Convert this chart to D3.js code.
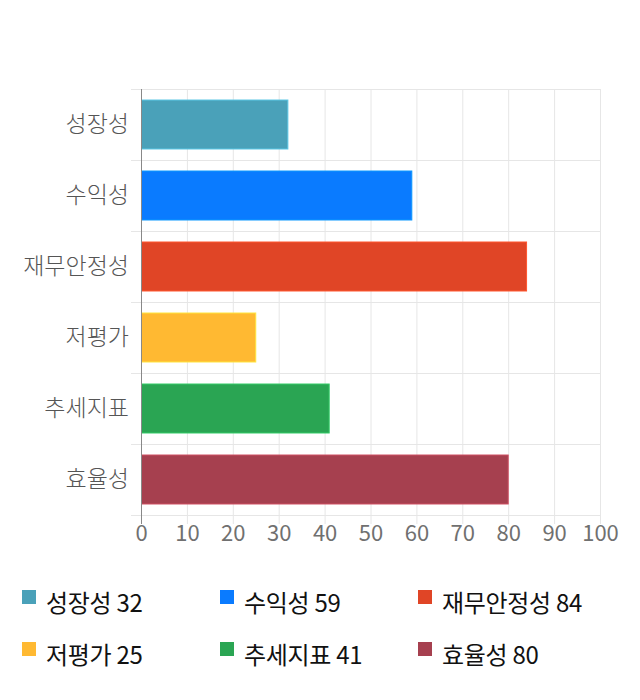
<!DOCTYPE html>
<meta charset="utf-8">
<style>
  body { margin: 0; background: #fff; }
  .grid line { stroke: #e6e6e6; stroke-width: 1px; }
  .axis text { font-family: "Noto Sans CJK KR", sans-serif; fill: #666; font-weight: 300; }
  .legend text { font-family: "Noto Sans CJK KR", sans-serif; fill: #111; }
</style>
<svg width="640" height="700"></svg>
<script src="https://d3js.org/d3.v7.min.js"></script>
<script>
  var categories = ["성장성", "수익성", "재무안정성", "저평가", "추세지표", "효율성"];
  var values = [32, 59, 84, 25, 41, 80];
  var colors = ["#4aa1b9", "#0a7bff", "#e04526", "#ffb932", "#2aa553", "#a6404f"];
  var xTicks = [0, 10, 20, 30, 40, 50, 60, 70, 80, 90, 100];

  var svg = d3.select("svg"),
    plotLeft = 141, plotRight = 600, plotTop = 89, plotBottom = 515;

  var x = d3.scaleLinear().domain([0, 100]).range([plotLeft, plotRight]);
  var y = d3.scaleBand().domain(categories).range([plotTop, plotBottom]).paddingInner(0.31).paddingOuter(0.155);

  var grid = svg.append("g").attr("class", "grid");

  // vertical grid lines (run a little past the bottom as tick marks)
  grid.selectAll("line.v")
    .data(xTicks.slice(1))
    .enter().append("line")
    .attr("x1", function(d) { return x(d) + 0.5; })
    .attr("x2", function(d) { return x(d) + 0.5; })
    .attr("y1", plotTop)
    .attr("y2", plotBottom + 9);

  // horizontal band separators
  var seps = d3.range(categories.length + 1).map(function(i) { return plotTop + i * y.step(); });
  grid.selectAll("line.h")
    .data(seps)
    .enter().append("line")
    .attr("x1", plotLeft - 10)
    .attr("x2", plotRight)
    .attr("y1", function(d) { return Math.round(d) + 0.5; })
    .attr("y2", function(d) { return Math.round(d) + 0.5; });

  svg.append("g")
    .selectAll("rect")
    .data(values)
    .enter().append("rect")
    .attr("x", x(0) + 0.5)
    .attr("y", function(d, i) { return y(categories[i]); })
    .attr("width", function(d) { return x(d) - x(0) - 0.5; })
    .attr("height", y.bandwidth())
    .attr("fill", function(d, i) { return colors[i]; })
    .attr("stroke", function(d, i) { return d3.color(colors[i]).brighter(0.6); })
    .attr("stroke-width", 1);

  // axis line
  svg.append("line")
    .attr("x1", plotLeft + 0.5).attr("x2", plotLeft + 0.5)
    .attr("y1", plotTop).attr("y2", plotBottom + 9)
    .attr("stroke", "#888");

  var xAxis = svg.append("g")
    .attr("class", "axis")
    .attr("transform", "translate(0," + plotBottom + ")")
    .call(d3.axisBottom(x).tickValues(xTicks).tickSize(0).tickPadding(10));
  xAxis.select(".domain").remove();
  xAxis.selectAll("text").attr("font-size", 22).style("font-weight", 400).style("fill", "#707070");

  var yAxis = svg.append("g")
    .attr("class", "axis")
    .attr("transform", "translate(" + (plotLeft - 12) + ",0)")
    .call(d3.axisLeft(y).tickSize(0).tickPadding(0));
  yAxis.select(".domain").remove();
  yAxis.selectAll("text").attr("font-size", 23).style("fill", "#555");

  var legend = svg.append("g").attr("class", "legend")
    .selectAll("g")
    .data(categories)
    .enter().append("g")
    .attr("transform", function(d, i) {
      return "translate(" + (22 + (i % 3) * 198) + "," + (590 + Math.floor(i / 3) * 52) + ")";
    });

  legend.append("rect")
    .attr("width", 14).attr("height", 14)
    .attr("fill", function(d, i) { return colors[i]; });

  legend.append("text")
    .attr("x", 24)
    .attr("y", 22)
    .attr("font-size", 24)
    .attr("letter-spacing", -0.3)
    .text(function(d, i) { return d + " " + values[i]; });
</script>
